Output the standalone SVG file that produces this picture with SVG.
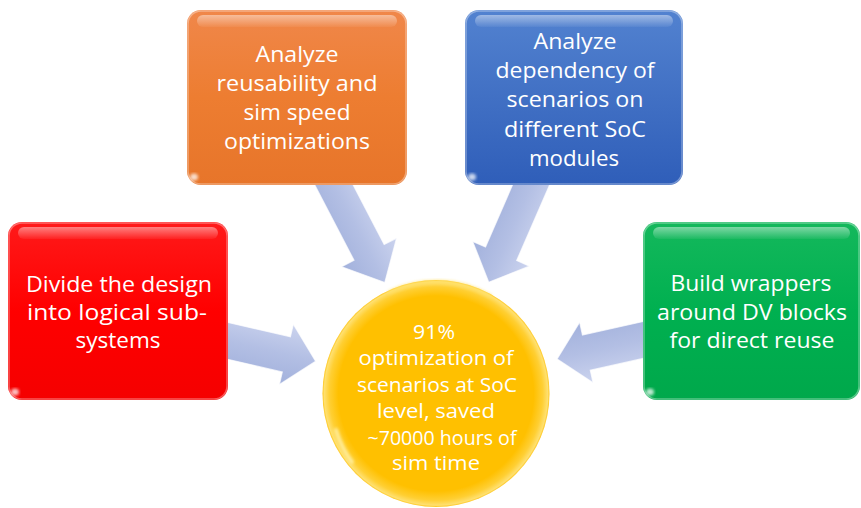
<svg xmlns="http://www.w3.org/2000/svg" width="861" height="508" viewBox="0 0 861 508">
  <defs>
    <linearGradient id="gOrange" x1="0" y1="0" x2="0" y2="1">
      <stop offset="0" stop-color="#F0874A"/>
      <stop offset="0.5" stop-color="#ED7D31"/>
      <stop offset="1" stop-color="#E7752A"/>
    </linearGradient>
    <linearGradient id="gBlue" x1="0" y1="0" x2="0" y2="1">
      <stop offset="0" stop-color="#5282D0"/>
      <stop offset="0.5" stop-color="#4170C4"/>
      <stop offset="1" stop-color="#2F5EB9"/>
    </linearGradient>
    <linearGradient id="gRed" x1="0" y1="0" x2="0" y2="1">
      <stop offset="0" stop-color="#FF1A1A"/>
      <stop offset="0.5" stop-color="#FF0000"/>
      <stop offset="1" stop-color="#F50000"/>
    </linearGradient>
    <linearGradient id="gGreen" x1="0" y1="0" x2="0" y2="1">
      <stop offset="0" stop-color="#14B85C"/>
      <stop offset="0.5" stop-color="#00B050"/>
      <stop offset="1" stop-color="#00A84B"/>
    </linearGradient>
    <linearGradient id="gGloss" x1="0" y1="0" x2="0" y2="1">
      <stop offset="0" stop-color="#FFFFFF" stop-opacity="0.45"/>
      <stop offset="1" stop-color="#FFFFFF" stop-opacity="0.05"/>
    </linearGradient>
    <linearGradient id="gArrow" x1="0" y1="0" x2="0" y2="1">
      <stop offset="0" stop-color="#CBD3EE"/>
      <stop offset="0.5" stop-color="#B3BFE4"/>
      <stop offset="1" stop-color="#A2B1DC"/>
    </linearGradient>
    <radialGradient id="gSun" cx="0.5" cy="0.5" r="0.5">
      <stop offset="0" stop-color="#FFC000"/>
      <stop offset="0.86" stop-color="#FFC000"/>
      <stop offset="0.94" stop-color="#FFCF33"/>
      <stop offset="0.985" stop-color="#FFE070"/>
      <stop offset="1" stop-color="#FFC61A"/>
    </radialGradient>
    <filter id="soft" x="-20%" y="-20%" width="140%" height="140%">
      <feGaussianBlur stdDeviation="1.5"/>
    </filter>
  </defs>
  <style>
    .box-shine { fill: url(#gGloss); }
    .edge { fill: none; stroke: #FFFFFF; stroke-opacity: 0.35; stroke-width: 1.5; }
    .glint { fill: #FFFFFF; opacity: 0.75; }
    .arrow { fill: url(#gArrow); stroke: #FFFFFF; stroke-opacity: 0.7; stroke-width: 1.2; stroke-linejoin: miter; }
    .label { font-family: "Open Sans", "Liberation Sans", sans-serif; font-size: 21px; fill: #FFFFFF; text-anchor: middle; }
    .label-c { font-family: "Open Sans", "Liberation Sans", sans-serif; font-size: 20px; fill: #FFFFFF; text-anchor: middle; }
  </style>

  <rect width="861" height="508" fill="#FFFFFF"/>

  <!-- block arrows pointing into the centre circle -->
  <g id="connectors">
    <polygon class="arrow" transform="translate(334,185) rotate(62.5)" points="-14,-17 76,-17 76,-31 110,0 76,31 76,17 -14,17"/>
    <polygon class="arrow" transform="translate(531,185) rotate(113.5)" points="-14,-17 75,-17 75,-31 106,0 75,31 75,17 -14,17"/>
    <polygon class="arrow" transform="translate(224,340) rotate(13)" points="-10,-18 64,-18 64,-31 94,0 64,31 64,18 -10,18"/>
    <polygon class="arrow" transform="translate(643,340) rotate(167.5)" points="-10,-18 58,-18 58,-31 88,0 58,31 58,18 -10,18"/>
  </g>

  <g id="node-reuse">
    <rect x="187" y="10" width="220" height="175" rx="14" fill="url(#gOrange)"/>
    <rect x="197" y="15" width="200" height="12" rx="6" class="box-shine"/>
    <rect x="188" y="11" width="218" height="173" rx="13" class="edge"/>
    <ellipse cx="194" cy="177" rx="4" ry="3.5" class="glint" filter="url(#soft)"/>
    <text class="label" x="297" y="62" textLength="83" lengthAdjust="spacingAndGlyphs">Analyze</text>
    <text class="label" x="297" y="91" textLength="161" lengthAdjust="spacingAndGlyphs">reusability and</text>
    <text class="label" x="297" y="120" textLength="107" lengthAdjust="spacingAndGlyphs">sim speed</text>
    <text class="label" x="297" y="149" textLength="146" lengthAdjust="spacingAndGlyphs">optimizations</text>
  </g>

  <g id="node-dependency">
    <rect x="465" y="10" width="218" height="175" rx="14" fill="url(#gBlue)"/>
    <rect x="475" y="15" width="198" height="12" rx="6" class="box-shine"/>
    <rect x="466" y="11" width="216" height="173" rx="13" class="edge"/>
    <ellipse cx="472" cy="177" rx="4" ry="3.5" class="glint" filter="url(#soft)"/>
    <text class="label" x="575" y="49" textLength="83" lengthAdjust="spacingAndGlyphs">Analyze</text>
    <text class="label" x="575" y="78" textLength="159" lengthAdjust="spacingAndGlyphs">dependency of</text>
    <text class="label" x="575" y="107" textLength="137" lengthAdjust="spacingAndGlyphs">scenarios on</text>
    <text class="label" x="575" y="137" textLength="142" lengthAdjust="spacingAndGlyphs">different SoC</text>
    <text class="label" x="574" y="166" textLength="90" lengthAdjust="spacingAndGlyphs">modules</text>
  </g>

  <g id="node-divide">
    <rect x="8" y="222" width="220" height="178" rx="14" fill="url(#gRed)"/>
    <rect x="18" y="227" width="200" height="12" rx="6" class="box-shine"/>
    <rect x="9" y="223" width="218" height="176" rx="13" class="edge"/>
    <ellipse cx="15" cy="392" rx="4" ry="3.5" class="glint" filter="url(#soft)"/>
    <text class="label" x="119" y="292" textLength="186" lengthAdjust="spacingAndGlyphs">Divide the design</text>
    <text class="label" x="117" y="320" textLength="180" lengthAdjust="spacingAndGlyphs">into logical sub-</text>
    <text class="label" x="118" y="348" textLength="85" lengthAdjust="spacingAndGlyphs">systems</text>
  </g>

  <g id="node-wrappers">
    <rect x="643" y="222" width="217" height="178" rx="14" fill="url(#gGreen)"/>
    <rect x="653" y="227" width="197" height="12" rx="6" class="box-shine"/>
    <rect x="644" y="223" width="215" height="176" rx="13" class="edge"/>
    <ellipse cx="650" cy="392" rx="4" ry="3.5" class="glint" filter="url(#soft)"/>
    <text class="label" x="751" y="291" textLength="161" lengthAdjust="spacingAndGlyphs">Build wrappers</text>
    <text class="label" x="752" y="320" textLength="190" lengthAdjust="spacingAndGlyphs">around DV blocks</text>
    <text class="label" x="752" y="348" textLength="165" lengthAdjust="spacingAndGlyphs">for direct reuse</text>
  </g>

  <g id="node-result">
    <circle cx="436" cy="393.5" r="113.5" fill="url(#gSun)"/>
    <path d="M 336 430 A 106 106 0 0 0 352 462" fill="none" stroke="#FFF3B0" stroke-width="4" stroke-linecap="round" opacity="0.8" filter="url(#soft)"/>
    <path d="M 390 292 A 108 108 0 0 1 490 296" fill="none" stroke="#FFE066" stroke-width="4" stroke-linecap="round" opacity="0.7" filter="url(#soft)"/>
    <text class="label-c" x="434" y="339" textLength="42" lengthAdjust="spacingAndGlyphs">91%</text>
    <text class="label-c" x="436" y="365" textLength="155" lengthAdjust="spacingAndGlyphs">optimization of</text>
    <text class="label-c" x="437" y="392" textLength="160" lengthAdjust="spacingAndGlyphs">scenarios at SoC</text>
    <text class="label-c" x="436" y="418" textLength="118" lengthAdjust="spacingAndGlyphs">level, saved</text>
    <text class="label-c" x="442" y="445" textLength="149" lengthAdjust="spacingAndGlyphs">~70000 hours of</text>
    <text class="label-c" x="436" y="470" textLength="88" lengthAdjust="spacingAndGlyphs">sim time</text>
  </g>
</svg>
